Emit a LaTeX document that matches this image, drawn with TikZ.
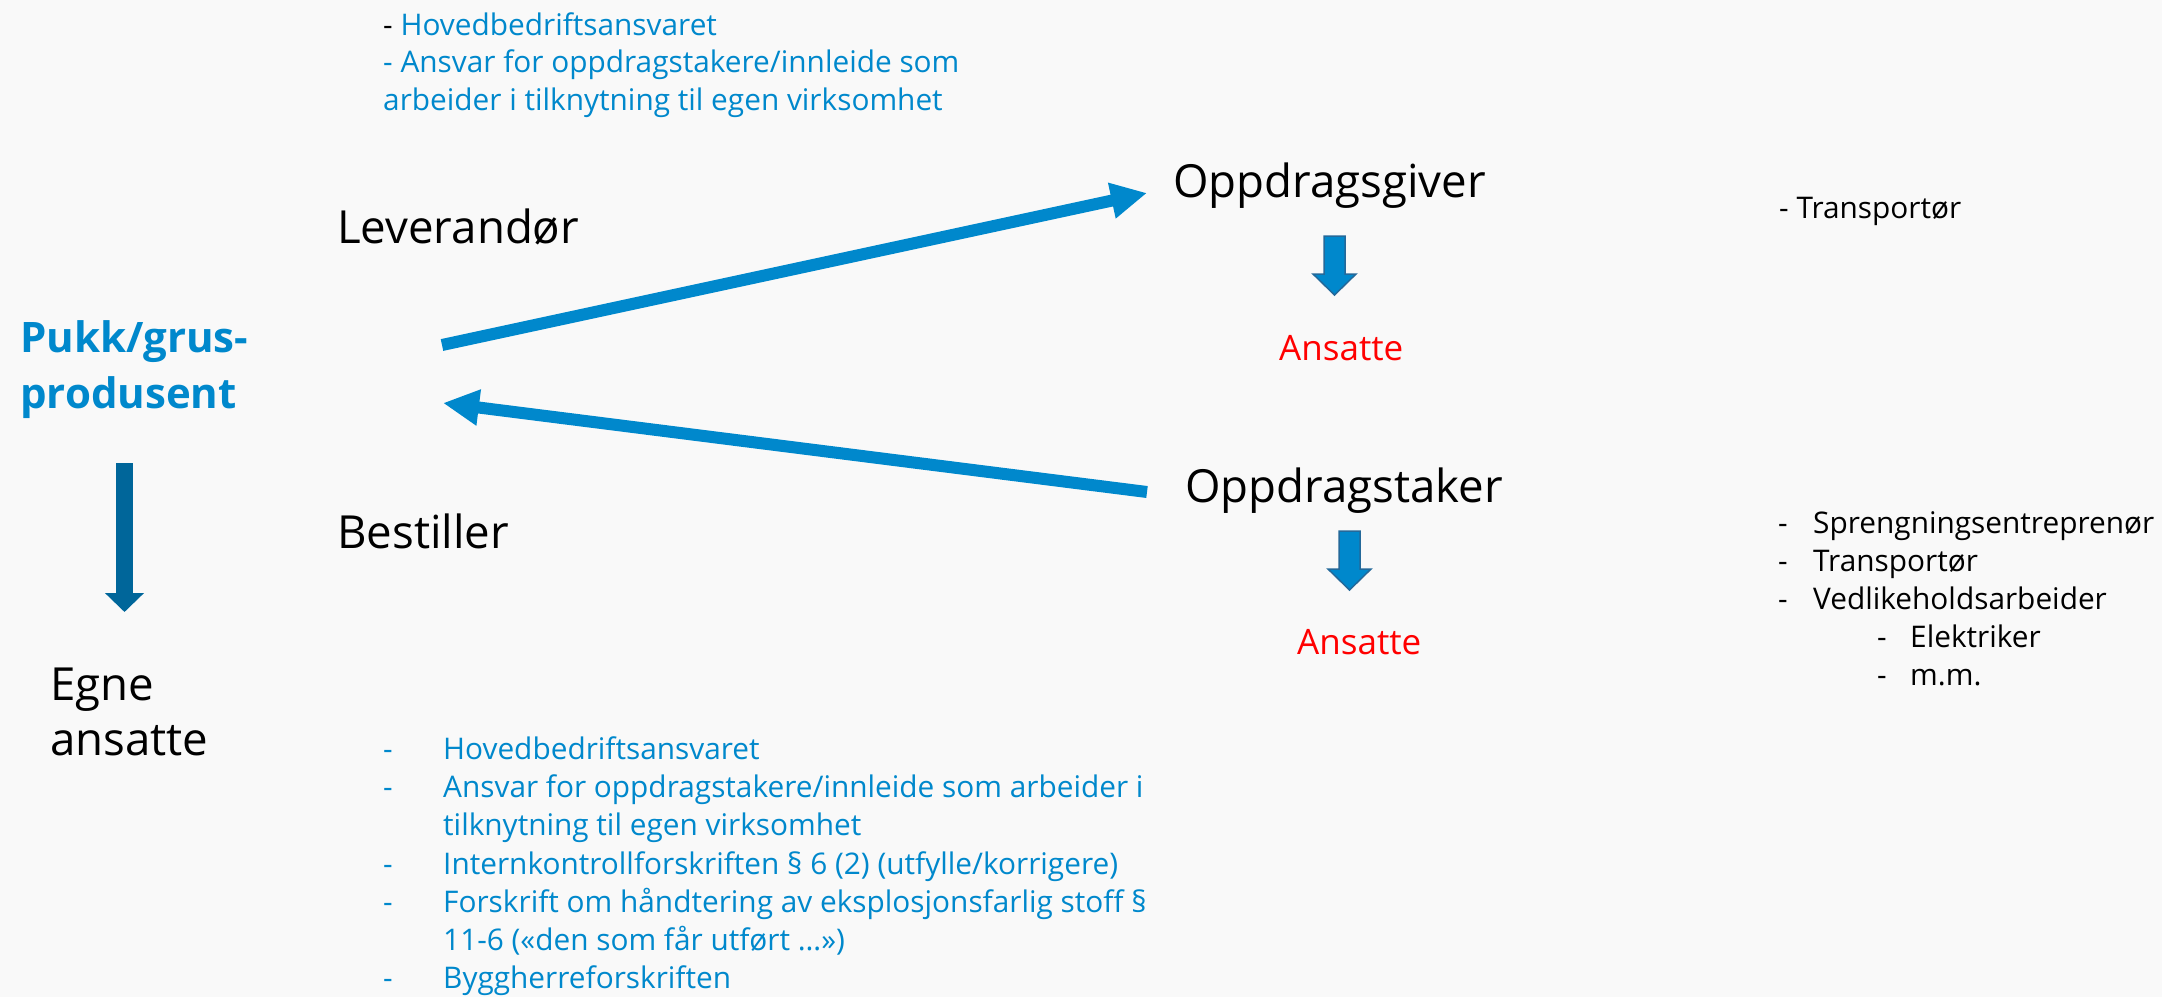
\documentclass[tikz,border=0pt]{standalone}
\usepackage{fontspec}
\setmainfont{Open Sans}
\usetikzlibrary{arrows.meta}
\definecolor{pblue}{HTML}{0088CC}
\definecolor{dblue}{HTML}{00669A}
\definecolor{bdr}{HTML}{24699A}
\definecolor{bgc}{HTML}{F9F9F9}
\definecolor{pred}{HTML}{FF0000}
\begin{document}
\begin{tikzpicture}[x=1pt,y=-1pt,
  lbl/.style={anchor=base west, inner sep=0pt, font=\fontsize{45.6}{55}\selectfont},
  head/.style={anchor=base west, inner sep=0pt, text=pblue, font=\fontsize{42}{50}\selectfont\bfseries},
  small/.style={anchor=base west, inner sep=0pt, font=\fontsize{29.8}{38}\selectfont},
  bsmall/.style={small, text=pblue},
  emp/.style={anchor=base west, inner sep=0pt, text=pred, font=\fontsize{35}{40}\selectfont},
  conn/.style={pblue, line width=12pt, -{Triangle[length=36pt,width=34pt]}},
  down/.style={dblue, line width=17pt, -{Triangle[length=19pt,width=38pt]}},
  blockarrow/.style={fill=pblue, draw=bdr, line width=1.5pt, line join=miter}]
\fill[bgc] (0,0) rectangle (2162,997);
\useasboundingbox (0,0) rectangle (2162,997);

% top blue notes
\node[bsmall] (t1) at (383,35) {{\color{black}-} Hovedbedriftsansvaret};
\node[bsmall] (t2) at (383,72) {- Ansvar for oppdragstakere/innleide som};
\node[bsmall] (t3) at (383,110) {arbeider i tilknytning til egen virksomhet};

% main labels
\node[head] (p1) at (20,352) {Pukk/grus-};
\node[head] (p2) at (20,408) {produsent};
\node[lbl] (lev) at (337,243) {Leverandør};
\node[lbl] (best) at (337,548) {Bestiller};
\node[lbl] (eg1) at (50,700) {Egne};
\node[lbl] (eg2) at (50,755) {ansatte};
\node[lbl] (giver) at (1173,197) {Oppdragsgiver};
\node[lbl] (taker) at (1185,502) {Oppdragstaker};
\node[emp] (ans1) at (1279,360) {Ansatte};
\node[emp] (ans2) at (1297,654) {Ansatte};

% right notes
\node[small] (r0) at (1779,218) {- Transportør};
\node[small] (rd1) at (1778,533) {-};
\node[small] (rt1) at (1813,533) {Sprengningsentreprenør};
\node[small] (rd2) at (1778,571) {-};
\node[small] (rt2) at (1813,571) {Transportør};
\node[small] (rd3) at (1778,609) {-};
\node[small] (rt3) at (1813,609) {Vedlikeholdsarbeider};
\node[small] (rd4) at (1877,647) {-};
\node[small] (rt4) at (1910,647) {Elektriker};
\node[small] (rd5) at (1877,685) {-};
\node[small] (rt5) at (1910,685) {m.m.};

% bottom blue list
\node[bsmall] (bd1) at (383,759) {-};
\node[bsmall] (bt1) at (443,759) {Hovedbedriftsansvaret};
\node[bsmall] (bd2) at (383,797) {-};
\node[bsmall] (bt2) at (443,797) {Ansvar for oppdragstakere/innleide som arbeider i};
\node[bsmall] (bt2b) at (443,835) {tilknytning til egen virksomhet};
\node[bsmall] (bd3) at (383,874) {-};
\node[bsmall] (bt3) at (443,874) {Internkontrollforskriften § 6 (2) (utfylle/korrigere)};
\node[bsmall] (bd4) at (383,912) {-};
\node[bsmall] (bt4) at (443,912) {Forskrift om håndtering av eksplosjonsfarlig stoff §};
\node[bsmall] (bt4b) at (443,950) {11-6 («den som får utført …»)};
\node[bsmall] (bd5) at (383,988) {-};
\node[bsmall] (bt5) at (443,988) {Byggherreforskriften};

% connectors
\coordinate (a1s) at (442,345);
\coordinate (a1e) at (1147,193);
\coordinate (a2s) at (1147,492);
\coordinate (a2e) at (443,403);
\coordinate (d0s) at (124.5,463);
\coordinate (d0e) at (124.5,612);
\draw[conn] (a1s) -- (a1e);
\draw[conn] (a2s) -- (a2e);
\draw[down] (d0s) -- (d0e);

% block arrows to employees
\draw[blockarrow, shift={(1334.5,236)}] (-10.5,0) -- (10.5,0) -- (10.5,38) -- (21.5,38) -- (0,59) -- (-21.5,38) -- (-10.5,38) -- cycle;
\draw[blockarrow, shift={(1349.5,531)}] (-10.5,0) -- (10.5,0) -- (10.5,38) -- (21.5,38) -- (0,59) -- (-21.5,38) -- (-10.5,38) -- cycle;
\end{tikzpicture}
\end{document}
